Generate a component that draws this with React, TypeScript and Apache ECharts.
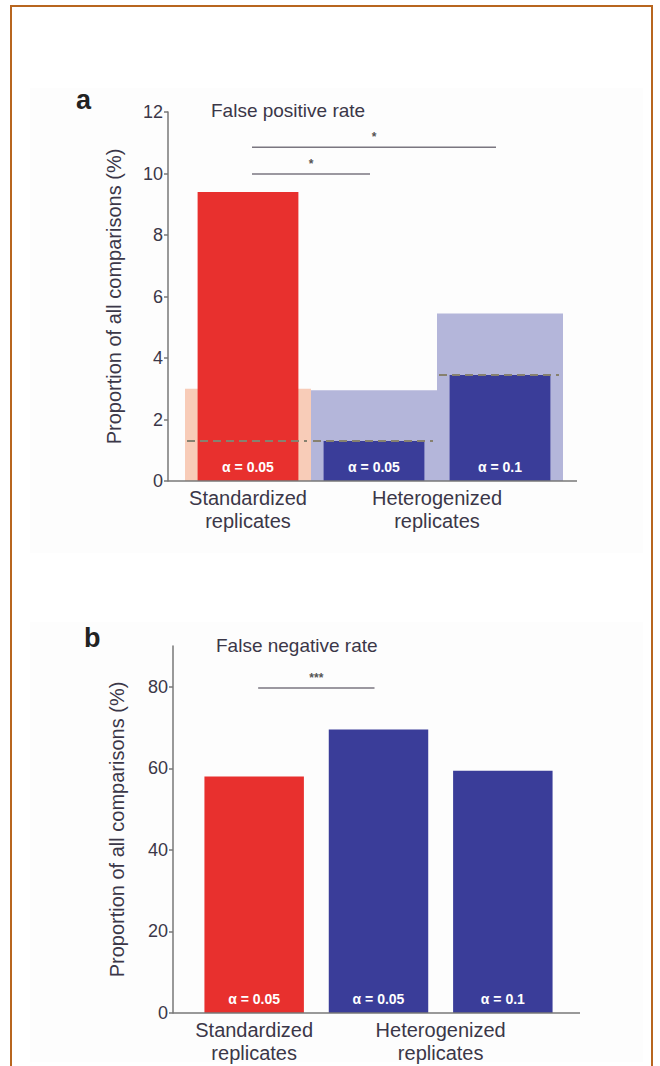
import React, { useEffect, useRef } from "react";
import * as echarts from "echarts";

// ---------- data ----------
const CATEGORIES = ["Standardized α=0.05", "Heterogenized α=0.05", "Heterogenized α=0.1"];
const ALPHA_LABELS = ["α = 0.05", "α = 0.05", "α = 0.1"];
const BAR_KIND = ["std", "het", "het"];

// panel a: false positive rate (%)
const FP_RATE = [9.4, 1.3, 3.45];
const FP_SHADE = [3.0, 2.95, 5.45];
const FP_DASHED = [1.3, 1.3, 3.45];
const FP_SIG = [
  [0, 2, 10.85],
  [0, 1, 9.98],
];
const FP_SIG_LABELS = ["*", "*"];

// panel b: false negative rate (%)
const FN_RATE = [58, 69.5, 59.4];
const FN_SIG = [[0, 1, 79.7]];
const FN_SIG_LABELS = ["***"];
const FN_TICKS = [0, 20, 40, 60, 80];

const GROUPS = [
  [0, 0],
  [1, 2],
];
const GROUP_LABELS = ["Standardized\nreplicates", "Heterogenized\nreplicates"];

// ---------- style ----------
const FONT = '"Liberation Sans", Arial, sans-serif';
const TEXT = "#3b3748";
const AXIS = "#777777";
const RED = "#e8302e";
const BLUE = "#3a3d99";
const SALMON = "#f8ccb8";
const LAVENDER = "#b4b6da";
const colorOf = (k: string) => (k === "std" ? RED : BLUE);
const shadeOf = (k: string) => (k === "std" ? SALMON : LAVENDER);

const GA = { left: 185, top: 112, width: 378, height: 369 };
const GB = { left: 192, top: 646, width: 373, height: 367 };

function sigSeries(name: string, data: number[][], labels: string[], xi: number, yi: number) {
  return {
    type: "custom",
    name,
    xAxisIndex: xi,
    yAxisIndex: yi,
    encode: { x: [0, 1], y: 2 },
    clip: false,
    z: 10,
    data,
    renderItem: (params: any, api: any) => {
      const y = api.value(2);
      const a = api.coord([api.value(0), y]);
      const b = api.coord([api.value(1), y]);
      return {
        type: "group",
        children: [
          {
            type: "line",
            shape: { x1: a[0] + 4, y1: a[1], x2: b[0] - 4, y2: a[1] },
            style: { stroke: "#7a7680", lineWidth: 1.5 },
          },
          {
            type: "text",
            x: (a[0] + b[0]) / 2,
            y: a[1] - 4,
            style: {
              text: labels[params.dataIndex],
              fill: "#555",
              font: `bold 12px ${FONT}`,
              align: "center",
              verticalAlign: "bottom",
            },
          },
        ],
      };
    },
  };
}

function groupLabelSeries(xi: number, yi: number) {
  return {
    type: "custom",
    xAxisIndex: xi,
    yAxisIndex: yi,
    encode: { x: [0, 1] },
    clip: false,
    silent: true,
    data: GROUPS,
    renderItem: (params: any, api: any) => {
      const p0 = api.coord([api.value(0), 0]);
      const p1 = api.coord([api.value(1), 0]);
      return {
        type: "text",
        x: (p0[0] + p1[0]) / 2,
        y: p0[1] + 5,
        style: {
          text: GROUP_LABELS[params.dataIndex],
          fill: TEXT,
          font: `20px ${FONT}`,
          align: "center",
          verticalAlign: "top",
          lineHeight: 23,
        },
      };
    },
  };
}

function yAxisBase(gridIndex: number, offset: number) {
  return {
    type: "value",
    gridIndex,
    offset,
    min: 0,
    name: "Proportion of all comparisons (%)",
    nameLocation: "middle",
    nameRotate: 90,
    nameGap: 44,
    nameTextStyle: { color: TEXT, fontSize: 20, fontFamily: FONT },
    axisLine: { show: true, lineStyle: { color: AXIS, width: 1.5 } },
    axisTick: { show: true, length: 4, lineStyle: { color: AXIS, width: 1.5 } },
    axisLabel: { color: TEXT, fontSize: 18, fontFamily: FONT, margin: 5 },
    splitLine: { show: false },
  };
}

function xAxisBase(gridIndex: number) {
  return {
    type: "category",
    gridIndex,
    data: CATEGORIES,
    boundaryGap: true,
    axisLine: { show: false },
    axisTick: { show: false },
    axisLabel: { show: false },
    splitLine: { show: false },
  };
}

export default function App() {
  const ref = useRef<HTMLDivElement>(null);

  useEffect(() => {
    if (!ref.current) return;
    const chart = echarts.init(ref.current, undefined, { renderer: "svg" });

    const option: any = {
      animation: false,
      backgroundColor: "transparent",
      title: [
        { text: "a", left: 71, top: 81, textStyle: { fontSize: 27, fontWeight: "bold", color: "#222", fontFamily: FONT } },
        { text: "False positive rate", left: 206, top: 96, textStyle: { fontSize: 19, fontWeight: "normal", color: TEXT, fontFamily: FONT } },
        { text: "b", left: 79, top: 619, textStyle: { fontSize: 27, fontWeight: "bold", color: "#222", fontFamily: FONT } },
        { text: "False negative rate", left: 211, top: 631, textStyle: { fontSize: 19, fontWeight: "normal", color: TEXT, fontFamily: FONT } },
      ],
      grid: [
        { ...GA, containLabel: false },
        { ...GB, containLabel: false },
      ],
      xAxis: [xAxisBase(0), xAxisBase(0), xAxisBase(1)],
      yAxis: [
        { ...yAxisBase(0, 17), max: 12, interval: 2 },
        {
          ...yAxisBase(1, 19),
          max: 90,
          interval: 20,
          nameGap: 46,
          axisTick: { show: true, length: 4, lineStyle: { color: AXIS, width: 1.5 }, customValues: FN_TICKS },
          axisLabel: {
            color: TEXT,
            fontSize: 18,
            fontFamily: FONT,
            margin: 5,
            customValues: FN_TICKS,
            formatter: (v: number) => (FN_TICKS.indexOf(v) >= 0 ? String(v) : ""),
          },
        },
      ],
      graphic: [
        { type: "line", shape: { x1: GA.left - 17, y1: GA.top + GA.height, x2: GA.left + GA.width + 14, y2: GA.top + GA.height }, style: { stroke: AXIS, lineWidth: 1.5 }, z: 20 },
        { type: "line", shape: { x1: GB.left - 19, y1: GB.top + GB.height, x2: GB.left + GB.width + 15, y2: GB.top + GB.height }, style: { stroke: AXIS, lineWidth: 1.5 }, z: 20 },
      ],
      series: [
        // panel a shaded boxes
        {
          type: "bar",
          xAxisIndex: 1,
          yAxisIndex: 0,
          barWidth: "100%",
          z: 1,
          silent: true,
          data: FP_SHADE.map((v, i) => ({ value: v, itemStyle: { color: shadeOf(BAR_KIND[i]) } })),
        },
        // panel a bars
        {
          type: "bar",
          xAxisIndex: 0,
          yAxisIndex: 0,
          barWidth: "80%",
          z: 2,
          data: FP_RATE.map((v, i) => ({ value: v, itemStyle: { color: colorOf(BAR_KIND[i]) } })),
          label: {
            show: true,
            position: "insideBottom",
            distance: 7,
            color: "#fff",
            fontSize: 14,
            fontWeight: "bold",
            fontFamily: FONT,
            formatter: (p: any) => ALPHA_LABELS[p.dataIndex],
          },
        },
        // panel a dashed reference lines
        {
          type: "custom",
          xAxisIndex: 0,
          yAxisIndex: 0,
          encode: { x: 0, y: 1 },
          z: 5,
          data: FP_DASHED.map((v, i) => [i, v]),
          renderItem: (params: any, api: any) => {
            const c = api.coord([api.value(0), api.value(1)]);
            const w = api.size([1, 0])[0];
            return {
              type: "line",
              shape: { x1: c[0] - w / 2 + 2, y1: c[1], x2: c[0] + w / 2 - 4, y2: c[1] },
              style: { stroke: "#87816f", lineWidth: 2, lineDash: [8, 5] },
            };
          },
        },
        sigSeries("sigA", FP_SIG, FP_SIG_LABELS, 0, 0),
        groupLabelSeries(0, 0),
        // panel b bars
        {
          type: "bar",
          xAxisIndex: 2,
          yAxisIndex: 1,
          barWidth: "80%",
          z: 2,
          data: FN_RATE.map((v, i) => ({ value: v, itemStyle: { color: colorOf(BAR_KIND[i]) } })),
          label: {
            show: true,
            position: "insideBottom",
            distance: 7,
            color: "#fff",
            fontSize: 14,
            fontWeight: "bold",
            fontFamily: FONT,
            formatter: (p: any) => ALPHA_LABELS[p.dataIndex],
          },
        },
        sigSeries("sigB", FN_SIG, FN_SIG_LABELS, 2, 1),
        groupLabelSeries(2, 1),
      ],
    };

    chart.setOption(option);
    return () => chart.dispose();
  }, []);

  return (
    <div style={{ position: "fixed", left: 0, top: 0, width: 660, height: 1066, overflow: "hidden", background: "#fff" }}>
      <div
        style={{
          position: "absolute",
          left: 10,
          top: 5,
          width: 643,
          height: 1100,
          border: "2px solid #b8661f",
          boxSizing: "border-box",
        }}
      />
      <div style={{ position: "absolute", left: 30, top: 88, width: 613, height: 465, background: "#fdfdfd" }} />
      <div style={{ position: "absolute", left: 30, top: 622, width: 613, height: 440, background: "#fdfdfd" }} />
      <div ref={ref} style={{ position: "absolute", left: 0, top: 0, width: 660, height: 1066 }} />
    </div>
  );
}
